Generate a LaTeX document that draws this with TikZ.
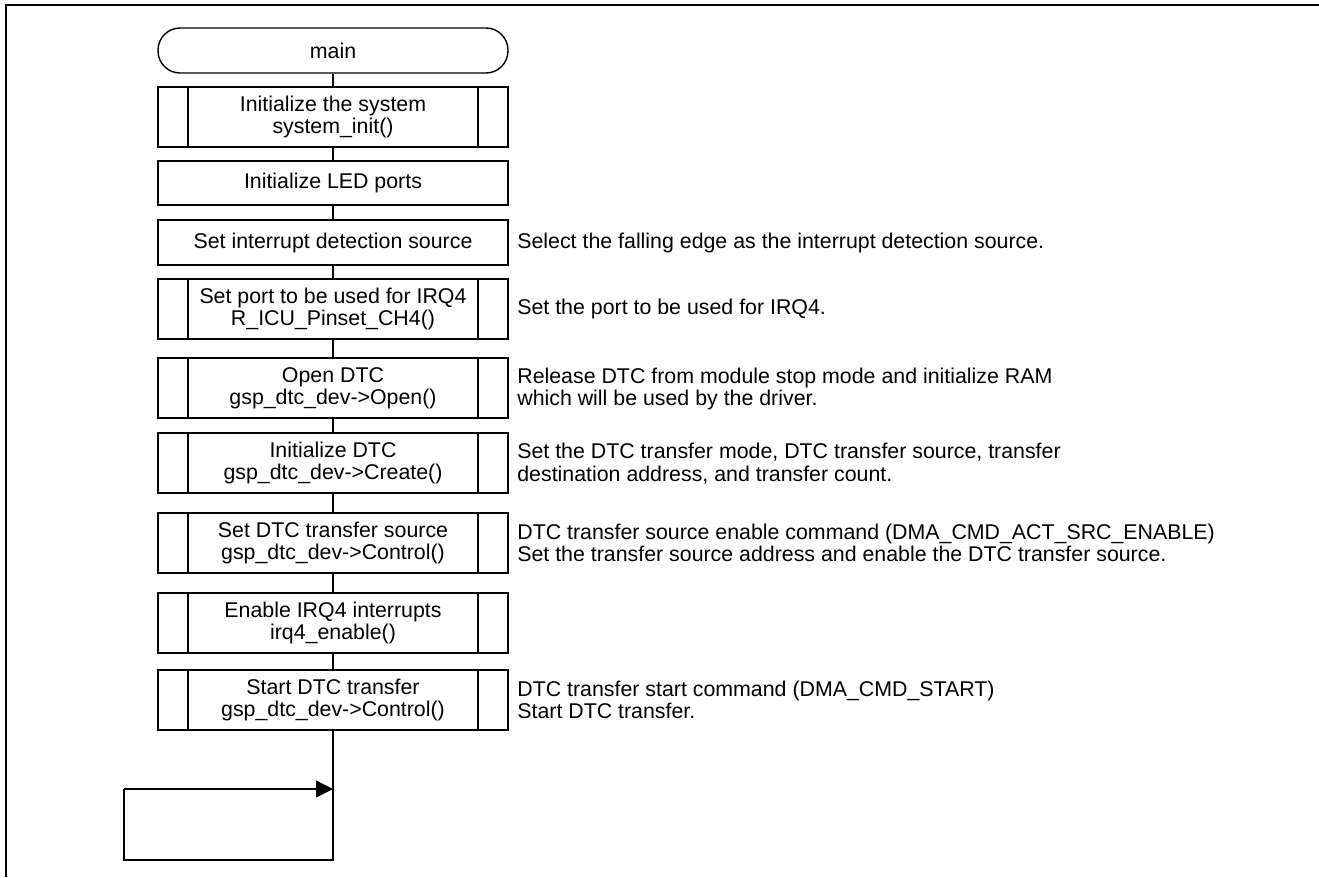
\documentclass[tikz,border=0pt]{standalone}
\usepackage{fontspec}
\setmainfont{Liberation Sans}
\usetikzlibrary{arrows.meta}

\begin{document}
\begin{tikzpicture}[x=0.02cm,y=-0.02cm,
	flowbox/.style={draw,line width=0.8pt,minimum width=7cm,minimum height=1.2cm,align=center,inner sep=0pt,
		font=\fontsize{12.15pt}{12.8pt}\selectfont},
	subbox/.style={flowbox,path picture={
		\draw[line width=0.8pt] ([xshift=0.6cm]path picture bounding box.north west) -- ([xshift=0.6cm]path picture bounding box.south west);
		\draw[line width=0.8pt] ([xshift=-0.6cm]path picture bounding box.north east) -- ([xshift=-0.6cm]path picture bounding box.south east);}},
	termbox/.style={flowbox,minimum height=0.9cm,rounded corners=0.44cm},
	note/.style={anchor=west,align=left,inner sep=0pt,font=\fontsize{12.15pt}{12.8pt}\selectfont},
	link/.style={line width=0.8pt}]
	\useasboundingbox (0,0) rectangle (1319,877);
	
	% frame
	\draw[line width=1.2pt] (1319,5) -- (6,5) -- (6,877);
	
	% flow
	\node[termbox] (main) at (333,50.5) {main};
	\node[subbox] (sysinit) at (333,117) {Initialize the system\\system\_init()};
	\node[flowbox,minimum height=0.88cm] (ledport) at (333,183) {Initialize LED ports};
	\node[flowbox,minimum height=0.9cm] (irqsrc) at (333,242.5) {Set interrupt detection source};
	\node[subbox] (irqport) at (333,309) {Set port to be used for IRQ4\\R\_ICU\_Pinset\_CH4()};
	\node[subbox] (dtcopen) at (333,388) {Open DTC\\gsp\_dtc\_dev->Open()};
	\node[subbox] (dtcinit) at (333,463) {Initialize DTC\\gsp\_dtc\_dev->Create()};
	\node[subbox] (dtcsrc) at (333,543) {Set DTC transfer source\\gsp\_dtc\_dev->Control()};
	\node[subbox] (irqen) at (333,623) {Enable IRQ4 interrupts\\irq4\_enable()};
	\node[subbox] (dtcstart) at (333,700) {Start DTC transfer\\gsp\_dtc\_dev->Control()};
	
	\foreach \a/\b in {main/sysinit,sysinit/ledport,ledport/irqsrc,irqsrc/irqport,irqport/dtcopen,
		dtcopen/dtcinit,dtcinit/dtcsrc,dtcsrc/irqen,irqen/dtcstart}
		\draw[link] (\a) -- (\b);
	
	% endless loop
	\coordinate (loopbot) at (333,860);
	\coordinate (loopleft) at (124,789);
	\coordinate (loopin) at (333,789);
	\draw[link] (dtcstart) -- (loopbot) -| (loopleft);
	\draw[link,-{Triangle[length=0.34cm,width=0.34cm]}] (loopleft) -- (loopin);
	
	% notes
	\node[note] (n1) at (517,243) {Select the falling edge as the interrupt detection source.};
	\node[note] (n2) at (517,309) {Set the port to be used for IRQ4.};
	\node[note] (n3) at (517,389) {Release DTC from module stop mode and initialize RAM\\which will be used by the driver.};
	\node[note] (n4) at (517,463.5) {Set the DTC transfer mode, DTC transfer source, transfer\\destination address, and transfer count.};
	\node[note] (n5) at (517,543) {DTC transfer source enable command (DMA\_CMD\_ACT\_SRC\_ENABLE)\\Set the transfer source address and enable the DTC transfer source.};
	\node[note] (n6) at (517,700) {DTC transfer start command (DMA\_CMD\_START)\\Start DTC transfer.};
\end{tikzpicture}
\end{document}
